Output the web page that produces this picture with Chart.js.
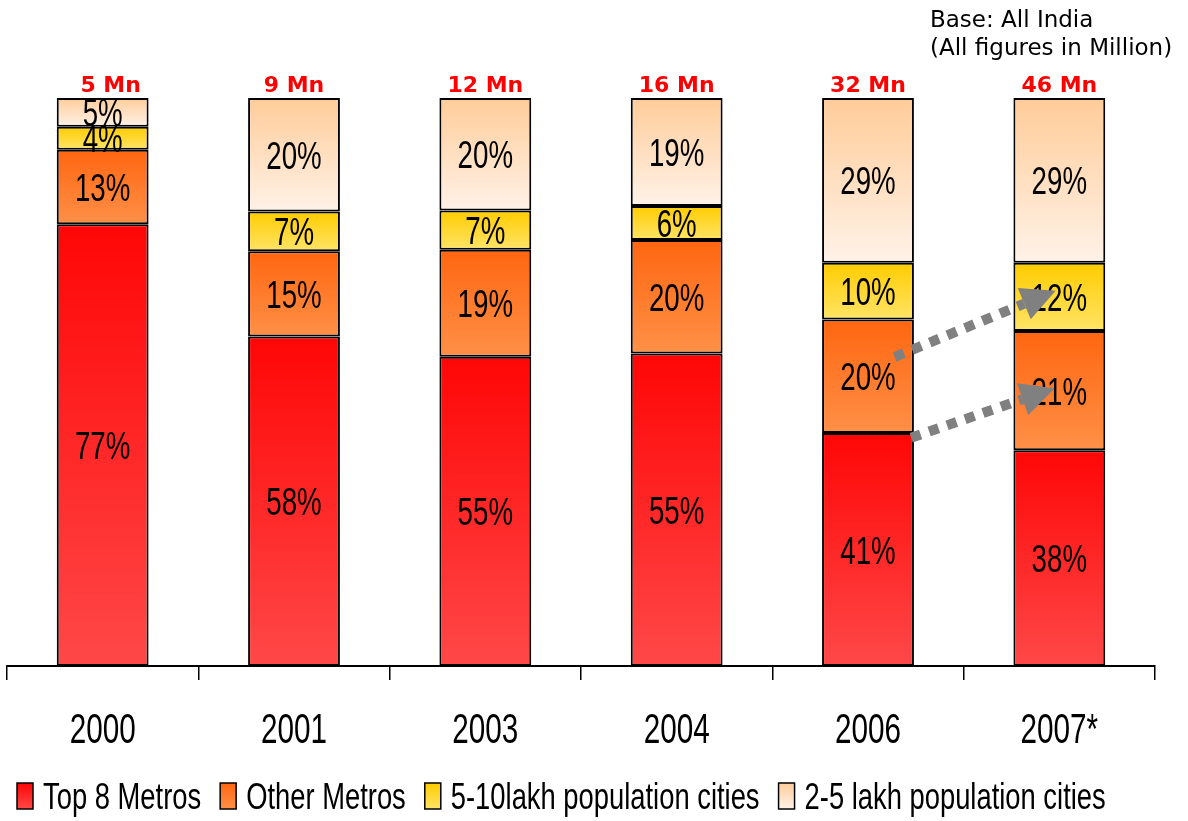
<!DOCTYPE html>
<html>
<head>
<meta charset="utf-8">
<script src="https://cdn.jsdelivr.net/npm/chart.js@4"></script>
<style>
html,body{margin:0;padding:0;background:#fff}
#wrap{width:1188px;height:821px;position:relative}
</style>
</head>
<body>
<div id="wrap"><canvas id="chart"></canvas></div>
<script>
// values
const years = ['2000', '2001', '2003', '2004', '2006', '2007*'];
const totalsMn = [5, 9, 12, 16, 32, 46];
const top8Metros = [77, 58, 55, 55, 41, 38];
const otherMetros = [13, 15, 19, 20, 20, 21];
const cities5to10 = [4, 7, 7, 6, 10, 12];
const cities2to5 = [5, 20, 20, 19, 29, 29];
const seriesNames = ['Top 8 Metros', 'Other Metros', '5-10lakh population cities', '2-5 lakh population cities'];

const rawSeries = [top8Metros, otherMetros, cities5to10, cities2to5];
const topColors = ['#ff0606', '#ff6610', '#ffcc00', '#ffcc99'];
const bottomColors = ['#ff4848', '#ff9048', '#ffe466', '#fff2e8'];

// 100% stacked: each column scaled to its own total
const shares = rawSeries.map(s => s.map((v, i) => {
  let sum = 0;
  rawSeries.forEach(r => { sum += r[i]; });
  return v / sum * 100;
}));

// arrows: [dataIndex, datasetIndex, x offset in bar widths, y fraction of segment]
const arrows = [
  { from: [4, 1, 0.29, 0.33], to: [5, 2, -0.04, 0.41] },
  { from: [4, 0, 0.47, 0.02], to: [5, 1, -0.05, 0.48] }
];

const narrowFont = '"Liberation Sans", Arial, sans-serif';

function segGradient(d) {
  return function (ctx) {
    const chart = ctx.chart;
    const y = chart.scales && chart.scales.y;
    if (!chart.chartArea || !y || ctx.type !== 'data') return topColors[d];
    let start = 0;
    for (let k = 0; k < d; k++) start += shares[k][ctx.dataIndex];
    const end = start + shares[d][ctx.dataIndex];
    const g = chart.ctx.createLinearGradient(0, y.getPixelForValue(end), 0, y.getPixelForValue(start));
    g.addColorStop(0, topColors[d]);
    g.addColorStop(1, bottomColors[d]);
    return g;
  };
}

// text squeezed sideways, like the narrow font of the original
function squeezed(c, text, x, y, size, sx, align) {
  c.save();
  c.font = size + 'px ' + narrowFont;
  c.translate(x, y);
  c.scale(sx, 1);
  c.textAlign = align;
  c.textBaseline = 'alphabetic';
  c.fillText(text, 0, 0);
  c.restore();
}

const labelPlugin = {
  id: 'labels',
  afterDatasetsDraw(chart) {
    const c = chart.ctx;
    c.save();
    c.fillStyle = '#000';
    chart.data.datasets.forEach((ds, d) => {
      chart.getDatasetMeta(d).data.forEach((el, i) => {
        squeezed(c, rawSeries[d][i] + '%', el.x, (el.y + el.base) / 2 + 14, 39, 0.71, 'center');
      });
    });

    // totals above the bars
    const topMeta = chart.getDatasetMeta(rawSeries.length - 1);
    c.fillStyle = '#ff0000';
    c.textAlign = 'center';
    c.textBaseline = 'alphabetic';
    c.font = 'bold 22px "DejaVu Sans", sans-serif';
    topMeta.data.forEach((el, i) => {
      c.fillText(totalsMn[i] + ' Mn', el.x + (i === 0 ? 8 : 0), 92);
    });

    // note in the corner
    c.fillStyle = '#000';
    c.textAlign = 'left';
    c.font = '23px "DejaVu Sans", sans-serif';
    c.fillText('Base: All India', 930, 27);
    c.fillText('(All figures in Million)', 930, 55);

    // category labels
    const xs = chart.scales.x;
    years.forEach((yr, i) => {
      squeezed(c, yr, xs.getPixelForValue(i), 743, 43, 0.69, 'center');
    });

    // legend
    let lx = 17;
    seriesNames.forEach((n, d) => {
      const g = c.createLinearGradient(0, 783, 0, 809);
      g.addColorStop(0, topColors[d]);
      g.addColorStop(1, bottomColors[d]);
      c.fillStyle = g;
      c.fillRect(lx, 783, 16, 26);
      c.strokeStyle = '#000';
      c.lineWidth = 1.5;
      c.strokeRect(lx, 783, 16, 26);
      c.fillStyle = '#000';
      c.font = '36px ' + narrowFont;
      const w = c.measureText(n).width * 0.76;
      squeezed(c, n, lx + 26, 809, 36, 0.76, 'left');
      lx += 26 + w + 19;
    });

    // dotted gray arrows
    function pt(spec) {
      const el = chart.getDatasetMeta(spec[1]).data[spec[0]];
      return { x: el.x + el.width * spec[2], y: el.y + (el.base - el.y) * spec[3] };
    }
    arrows.forEach(a => {
      const p0 = pt(a.from), p1 = pt(a.to);
      const ang = Math.atan2(p1.y - p0.y, p1.x - p0.x);
      const headLen = 34, headW = 17;
      const bx = p1.x - headLen * Math.cos(ang), by = p1.y - headLen * Math.sin(ang);
      c.strokeStyle = '#808080';
      c.fillStyle = '#808080';
      c.lineWidth = 10;
      c.lineCap = 'butt';
      c.setLineDash([10, 9]);
      c.beginPath();
      c.moveTo(p0.x, p0.y);
      c.lineTo(bx, by);
      c.stroke();
      c.setLineDash([]);
      c.beginPath();
      c.moveTo(p1.x, p1.y);
      c.lineTo(bx + headW * Math.sin(ang), by - headW * Math.cos(ang));
      c.lineTo(bx - headW * Math.sin(ang), by + headW * Math.cos(ang));
      c.closePath();
      c.fill();
    });
    c.restore();
  }
};

const chart = new Chart(document.getElementById('chart'), {
  type: 'bar',
  data: {
    labels: years,
    datasets: shares.map((s, d) => ({
      label: seriesNames[d],
      data: s,
      backgroundColor: segGradient(d),
      borderColor: '#000',
      borderWidth: 2,
      borderSkipped: false,
      categoryPercentage: 1,
      barPercentage: 0.48
    }))
  },
  options: {
    responsive: true,
    maintainAspectRatio: false,
    animation: false,
    layout: { padding: { top: 98, left: 7, right: 33, bottom: 0 } },
    plugins: {
      tooltip: { enabled: false },
      legend: { display: false }
    },
    scales: {
      x: {
        stacked: true,
        grid: { drawOnChartArea: false, drawTicks: true, tickLength: 14, color: '#000', lineWidth: 1.5 },
        border: { display: true, color: '#000', width: 2 },
        ticks: { display: false },
        afterFit: scale => { scale.height = 155; }
      },
      y: {
        stacked: true,
        display: false,
        min: 0,
        max: 100
      }
    }
  },
  plugins: [labelPlugin]
});
</script>
</body>
</html>
